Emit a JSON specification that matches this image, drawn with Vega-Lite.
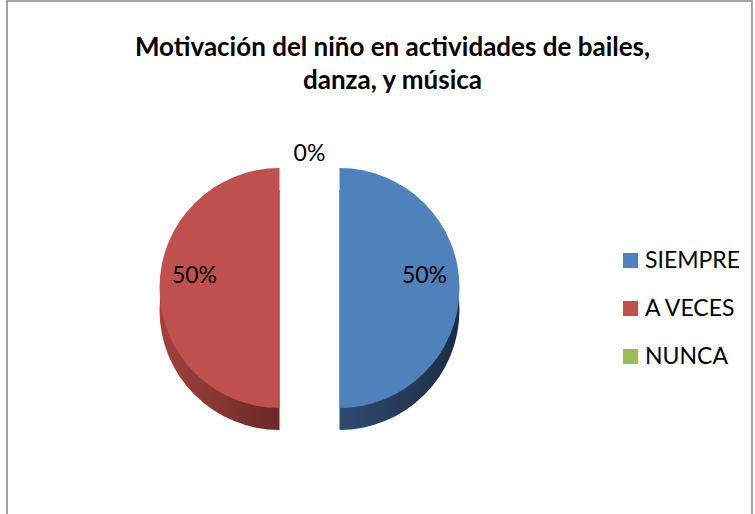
{
  "$schema": "https://vega.github.io/schema/vega-lite/v6.json",
  "width": 745,
  "height": 540,
  "autosize": {"type": "none"},
  "padding": {"left": 7, "top": 1, "right": 2, "bottom": 0},
  "background": "white",
  "view": {"stroke": "#868686", "strokeWidth": 1.5},
  "title": {
    "text": ["Motivación del niño en actividades de bailes,", "danza, y música"],
    "font": "Lato",
    "fontSize": 26,
    "fontWeight": "bold",
    "color": "#000000",
    "offset": -93,
    "lineHeight": 33,
    "anchor": "middle",
    "dx": 13
  },
  "data": {
    "values": [
      {"categoria": "SIEMPRE", "valor": 50, "orden": 1, "etiqueta": "50%"},
      {"categoria": "A VECES", "valor": 50, "orden": 2, "etiqueta": "50%"},
      {"categoria": "NUNCA", "valor": 0, "orden": 3, "etiqueta": "0%"}
    ]
  },
  "encoding": {
    "theta": {"field": "valor", "type": "quantitative", "stack": true, "scale": {"domain": [0, 100]}},
    "order": {"field": "orden", "type": "quantitative"}
  },
  "layer": [
    {
      "mark": {
        "type": "arc", "outerRadius": 120, "xOffset": -40, "yOffset": 39,
        "fill": {"gradient": "linear", "x1": 0, "x2": 1, "y1": 0, "y2": 0, "stops": [{"offset": 0, "color": "#2F4B70"}, {"offset": 1, "color": "#1B2D45"}]}
      },
      "encoding": {"opacity": {"condition": {"test": "datum.categoria === 'SIEMPRE'", "value": 1}, "value": 0}}
    },
    {
      "mark": {
        "type": "arc", "outerRadius": 120, "xOffset": -100, "yOffset": 39,
        "fill": {"gradient": "linear", "x1": 0, "x2": 1, "y1": 0, "y2": 0, "stops": [{"offset": 0, "color": "#A3423F"}, {"offset": 1, "color": "#6A2826"}]}
      },
      "encoding": {"opacity": {"condition": {"test": "datum.categoria === 'A VECES'", "value": 1}, "value": 0}}
    },
    {
      "mark": {"type": "arc", "outerRadius": 120, "xOffset": -40, "yOffset": 17},
      "encoding": {
        "color": {
          "field": "categoria",
          "type": "nominal",
          "scale": {"domain": ["SIEMPRE", "A VECES", "NUNCA"], "range": ["#4F81BD", "#C0504D", "#9BBB59"]},
          "legend": {
            "title": null,
            "orient": "none",
            "legendX": 612,
            "legendY": 248,
            "padding": 0,
            "symbolType": "square",
            "symbolSize": 225,
            "symbolStrokeWidth": 0,
            "labelFont": "Lato",
            "labelFontSize": 23,
            "labelColor": "#000000",
            "labelOffset": 3,
            "rowPadding": 24
          }
        },
        "opacity": {"condition": {"test": "datum.categoria === 'SIEMPRE'", "value": 1}, "value": 0}
      }
    },
    {
      "mark": {"type": "arc", "outerRadius": 120, "xOffset": -100, "yOffset": 17},
      "encoding": {
        "color": {"field": "categoria", "type": "nominal"},
        "opacity": {"condition": {"test": "datum.categoria === 'A VECES'", "value": 1}, "value": 0}
      }
    },
    {
      "mark": {"type": "text", "radius": 85, "xOffset": -40, "yOffset": 5, "font": "Lato", "fontSize": 23, "color": "#000000"},
      "encoding": {
        "text": {"field": "etiqueta", "type": "nominal"},
        "opacity": {"condition": {"test": "datum.categoria === 'SIEMPRE'", "value": 1}, "value": 0}
      }
    },
    {
      "mark": {"type": "text", "radius": 85, "xOffset": -100, "yOffset": 5, "font": "Lato", "fontSize": 23, "color": "#000000"},
      "encoding": {
        "text": {"field": "etiqueta", "type": "nominal"},
        "opacity": {"condition": {"test": "datum.categoria === 'A VECES'", "value": 1}, "value": 0}
      }
    },
    {
      "mark": {"type": "text", "radius": 134, "xOffset": -70, "yOffset": 17, "font": "Lato", "fontSize": 23, "color": "#000000"},
      "encoding": {
        "text": {"field": "etiqueta", "type": "nominal"},
        "opacity": {"condition": {"test": "datum.categoria === 'NUNCA'", "value": 1}, "value": 0}
      }
    }
  ]
}
